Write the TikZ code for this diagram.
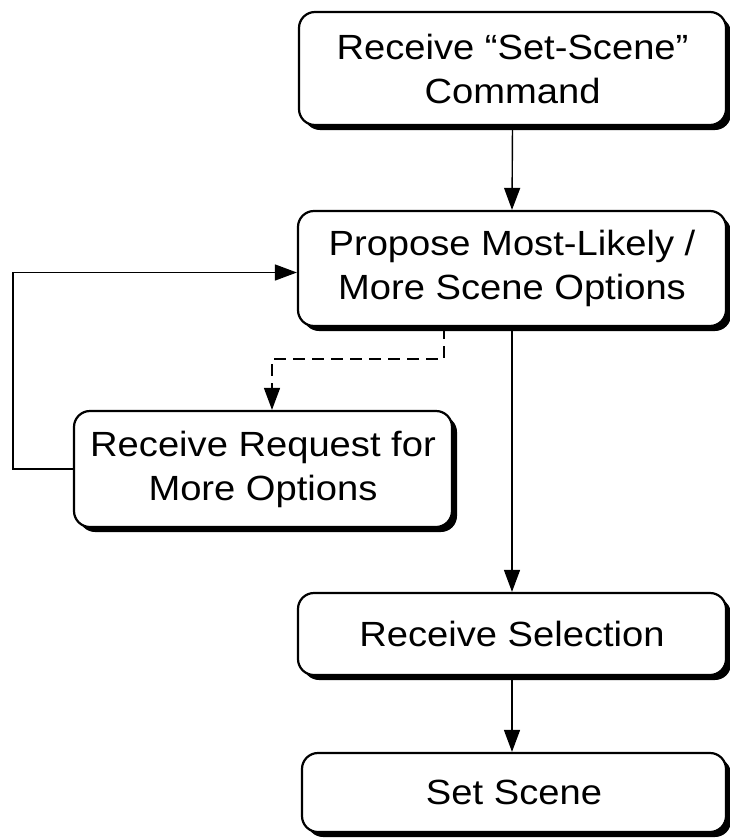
\documentclass[tikz,border=0pt]{standalone}
\usepackage{fontspec}
\setmainfont{Liberation Sans}[FakeStretch=1.09]
\usetikzlibrary{shadows,arrows.meta}
\begin{document}
\begin{tikzpicture}[x=1pt,y=-1pt,
  box/.style={draw, line width=2.2pt, rounded corners=16pt, fill=white,
    align=center, inner sep=0pt,
    font=\fontsize{35}{44}\selectfont,
    drop shadow={shadow xshift=5pt, shadow yshift=-5pt, opacity=1, fill=black}},
  arr/.style={line width=1.4pt, -{Triangle[length=22pt,width=16pt]}},
  conn/.style={line width=1.4pt}]
\useasboundingbox (0,0) rectangle (729,838);
\node[box, minimum width=427pt, minimum height=113pt] (b1) at (512.5,68.5) {Receive “Set-Scene”\\Command};
\node[box, minimum width=428pt, minimum height=115pt] (b2) at (512,268.5) {Propose Most-Likely /\\More Scene Options};
\node[box, minimum width=378pt, minimum height=116pt] (b3) at (263,469) {Receive Request for\\More Options};
\node[box, minimum width=428pt, minimum height=82pt] (b4) at (512,634) {Receive Selection};
\node[box, minimum width=424pt, minimum height=79pt] (b5) at (514,792.5) {Set Scene};
\coordinate (lp) at (13,469);
\coordinate (d1) at (444,359);
\coordinate (d2) at (272,359);
\draw[arr] (b1.south) -- (b2.north);
\draw[arr] (b3.west) -- (lp) |- ([yshift=-4pt]b2.west);
\draw[arr, dash pattern=on 12pt off 7pt] (b2.south -| d1) -- (d1) -- (d2) -- (b3.north -| d2);
\draw[arr] (b2.south) -- (b4.north);
\draw[arr] (b4.south) -- (b5.north -| b4.south);
\end{tikzpicture}
\end{document}
